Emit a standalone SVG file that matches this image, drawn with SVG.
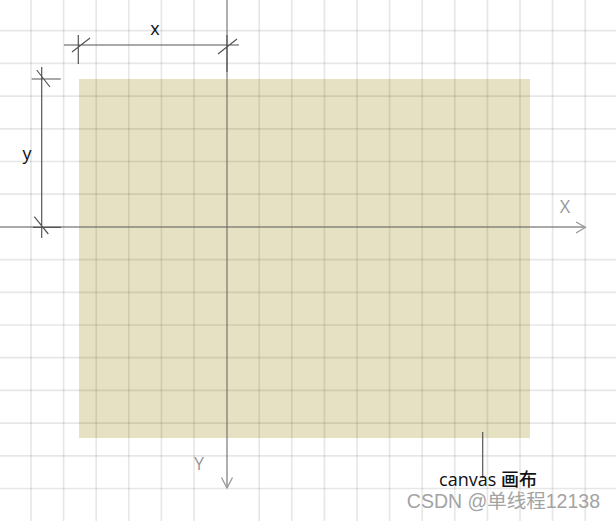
<svg xmlns="http://www.w3.org/2000/svg" width="616" height="521" viewBox="0 0 616 521">
<style>
.grid{stroke:#000;stroke-opacity:0.095;stroke-width:1.7;fill:none}
.axis{stroke:#666;stroke-opacity:0.75;stroke-width:1.4;fill:none}
.arrow{stroke:#999;stroke-width:1.3;fill:none}
.dim{stroke:#555;stroke-width:1.2;fill:none}
.lbl{font-family:"Open Sans","Noto Sans","Noto Sans CJK SC",sans-serif;font-size:18px;font-weight:500;fill:#111}
.axlbl{font-family:"Open Sans","Noto Sans",sans-serif;font-size:18px;fill:#999}
.wm{font-family:"Liberation Sans","Noto Sans CJK SC",sans-serif;font-size:19.5px;fill:#a3a3a3}
</style>
<rect width="616" height="521" fill="#fff"/>
<g id="canvas-area">
<rect x="79" y="79" width="451" height="359" fill="#e7e1c3"/>
</g>
<g id="grid">
<path class="grid" d="M31,0V521M63.6,0V521M96.2,0V521M128.8,0V521M161.4,0V521M194,0V521M259.2,0V521M291.8,0V521M324.4,0V521M357,0V521M389.6,0V521M422.2,0V521M454.8,0V521M487.4,0V521M520,0V521M552.6,0V521M585.2,0V521"/>
<path class="grid" d="M0,30.7H616M0,63.4H616M0,96.1H616M0,128.8H616M0,161.5H616M0,194.2H616M0,259.6H616M0,292.3H616M0,325H616M0,357.7H616M0,390.4H616M0,423.1H616M0,455.8H616M0,488.5H616"/>
</g>
<g id="connectors">
<path class="axis" d="M0,227H585"/>
<path class="axis" d="M227,0V488"/>
<path class="arrow" d="M576,222L585.5,227.3L576,233"/>
<path class="arrow" d="M221.5,477.5L227,488L232.5,477.5"/>
<path class="dim" d="M64,45H239M78.3,35V64M72,52L90,38M218,54L237,39M227,35V72"/>
<path class="dim" d="M41.7,67V238M31.7,79H60.7M36.7,70L50,87M33,227.3H61M34.3,216.7L48.3,234"/>
<path stroke="#555" stroke-width="1.2" d="M482.7,432V478"/>
</g>
<g id="labels">
<text class="lbl" x="155" y="35" text-anchor="middle">x</text>
<text class="lbl" x="27" y="160" text-anchor="middle">y</text>
<text class="axlbl" x="565" y="213" text-anchor="middle">X</text>
<text class="axlbl" x="199" y="470" text-anchor="middle">Y</text>
<text class="lbl" x="488" y="486" text-anchor="middle" font-size="17">canvas 画布</text>
<text class="wm" x="600" y="508" text-anchor="end">CSDN @单线程12138</text>
</g>
</svg>
